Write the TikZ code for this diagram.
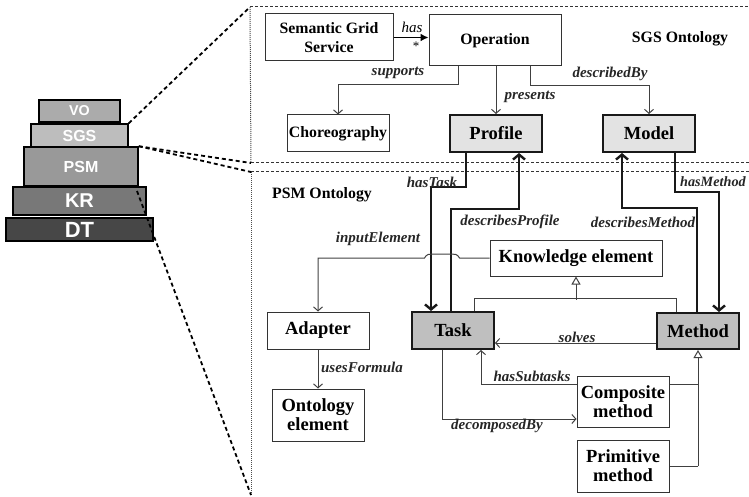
\documentclass[tikz,border=0pt]{standalone}
\usepackage{fontspec}
\setmainfont{Liberation Serif}
\newfontfamily\pyrfont{Liberation Sans}
\usetikzlibrary{arrows.meta}
\begin{document}
\begin{tikzpicture}[x=1pt,y=-1pt,
  box/.style={draw=black!80, line width=1pt, fill=white, inner sep=0pt, align=center, font=\bfseries\fontsize{18.5}{19}\selectfont},
  sbox/.style={box, font=\bfseries\fontsize{15.8}{19}\selectfont},
  gbox/.style={box, line width=2pt, draw=black!90},
  lbl/.style={font=\bfseries\itshape\fontsize{15}{16}\selectfont, text=black!85, inner sep=1pt},
  conn/.style={draw=black!75, line width=1pt},
  thk/.style={draw=black!90, line width=2.4pt},
  arr/.style={-{Straight Barb[length=4pt,width=9pt]}},
  tarr/.style={-{Straight Barb[length=5pt,width=12pt]}},
  gen/.style={-{Triangle[open,length=8pt,width=9pt,fill=white]}},
  lay/.style={draw=black, line width=1.5pt, text=white, inner sep=0pt},
  fdash/.style={line width=1pt, dash pattern=on 3pt off 2pt, draw=black!80},
  fdot/.style={line width=1pt, dash pattern=on 1pt off 1pt, draw=black!70},
  pdash/.style={line width=1.8pt, dash pattern=on 4pt off 3pt, draw=black}
]
\useasboundingbox (0,0) rectangle (749,497);

% frame coordinates
\coordinate (t1) at (250,7);
\coordinate (t2) at (760,7);
\coordinate (b1) at (251,163);
\coordinate (b2) at (760,163);
\coordinate (p1) at (251,172);
\coordinate (p2) at (760,172);
\coordinate (p3) at (251,495);
\coordinate (k1) at (137,191);

\draw[fdash] (t1) -- (t2);
\draw[fdot] (t1) -- (b1);
\draw[fdash] (b1) -- (b2);
\draw[fdash] (p1) -- (p2);
\draw[fdot] (p1) -- (p3);

% pyramid
\node[lay, fill=gray!66, minimum width=81, minimum height=22, font=\pyrfont\bfseries\fontsize{14.3}{15}\selectfont] (vo) at (79.5,111) {VO};
\node[lay, fill=gray!52, minimum width=97, minimum height=23, font=\pyrfont\bfseries\fontsize{16}{17}\selectfont] (sgsl) at (79.5,135.5) {SGS};
\node[lay, fill=gray!80, minimum width=114, minimum height=39, font=\pyrfont\bfseries\fontsize{16}{17}\selectfont] (psml) at (81,166.5) {PSM};
\node[lay, fill=black!53, minimum width=133, minimum height=28, font=\pyrfont\bfseries\fontsize{20}{21}\selectfont] (krl) at (79.5,201) {KR};
\node[lay, fill=black!72, minimum width=147, minimum height=23, font=\pyrfont\bfseries\fontsize{22}{23}\selectfont] (dtl) at (79.5,229.5) {DT};

\draw[pdash] (sgsl.north east) -- (t1);
\draw[pdash] (psml.north east) -- (b1);
\draw[pdash] (psml.north east) -- (p1);
\draw[pdash] (k1) -- (p3);

% SGS ontology boxes
\node[sbox, minimum width=128, minimum height=47] (sgs) at (329,37.5) {Semantic Grid\\Service};
\node[sbox, minimum width=132, minimum height=51] (op) at (495,40.5) {Operation};
\node[sbox, minimum width=102, minimum height=37] (choreo) at (338,133.5) {Choreography};
\node[gbox, fill=gray!22, minimum width=92, minimum height=37] (profile) at (496,133.5) {Profile};
\node[gbox, fill=gray!22, minimum width=92, minimum height=37] (model) at (649,133.5) {Model};
\node[font=\bfseries\fontsize{15.8}{17}\selectfont] (sgstitle) at (680,39) {SGS Ontology};

% PSM ontology boxes
\node[font=\bfseries\fontsize{15.8}{17}\selectfont] (psmtitle) at (322,195) {PSM Ontology};
\node[box, minimum width=172, minimum height=36] (ke) at (576,258) {Knowledge element};
\node[box, minimum width=102, minimum height=37] (adapter) at (318,330.5) {Adapter};
\node[gbox, fill=gray!50, minimum width=82, minimum height=37] (task) at (453,330.5) {Task};
\node[gbox, fill=gray!50, minimum width=82, minimum height=36] (method) at (698,331) {Method};
\node[box, minimum width=92, minimum height=52] (ontel) at (318,415) {Ontology\\element};
\node[box, minimum width=92, minimum height=51] (comp) at (623,401.5) {Composite\\method};
\node[box, minimum width=92, minimum height=52] (prim) at (623,466) {Primitive\\method};

% SGS connectors
\draw[line width=1.8pt, draw=black, -{Latex[length=8pt,width=8pt]}] (sgs.east) -- (sgs.east -| op.west);
\node[font=\itshape\fontsize{15}{16}\selectfont, inner sep=0pt] (lhas) at (412,27) {has};
\node[font=\fontsize{13}{14}\selectfont, inner sep=0pt] (lstar) at (416,46) {*};

\draw[conn, arr] ([xshift=30]op.south west) -- ++(0,18) -| (choreo.north);
\node[lbl] (lsup) at (398,73) {supports};
\draw[conn, arr] (profile.north |- op.south) -- (profile.north);
\node[lbl] (lpres) at (530,97) {presents};
\draw[conn, arr] ([xshift=102]op.south west) -- ++(0,19) -| (model.north);
\node[lbl] (ldesc) at (610,74) {describedBy};

% thick connectors
\draw[thk, tarr] ([xshift=17]profile.south west) -- ++(0,34) -| ([xshift=20]task.north west);
\node[lbl] (lhastask) at (432,182) {hasTask};
\draw[thk, tarr] ([xshift=40]task.north west) -- ++(0,-102) -| ([xshift=70]profile.south west);
\node[lbl] (ldp) at (510,222) {describesProfile};
\draw[thk, tarr] ([xshift=41]method.north west) -- ++(0,-104) -| ([xshift=20]model.south west);
\node[lbl] (ldm) at (643,222) {describesMethod};
\draw[thk, tarr] ([xshift=73]model.south west) -- ++(0,39) -| ([xshift=63]method.north west);
\node[lbl, anchor=west, font=\bfseries\itshape\fontsize{14.2}{15}\selectfont, inner sep=0pt] (lhm) at (680,182) {hasMethod};

% PSM thin connectors
\draw[conn, arr] (ke.west) -- ++(-30,0) .. controls +(-2,-4) and +(3,0) .. ++(-8,-4) -- ++(-19,0) .. controls +(-3,0) and +(2,-4) .. ++(-8,4) -| (adapter.north);
\node[lbl] (lie) at (378,239) {inputElement};
\draw[conn, arr] (adapter.south) -- (ontel.north);
\node[lbl] (luf) at (362,367) {usesFormula};

\draw[conn] ([xshift=63]task.north west) -- ++(0,-13) -| ([xshift=20]method.north west);
\draw[conn, gen] ([yshift=-23]ke.south) -- (ke.south);

\draw[conn, arr] ([yshift=-12]method.west) -- ([yshift=-12]method.west -| task.east);
\node[lbl] (lsol) at (577,337) {solves};
\draw[conn, arr] ([yshift=17.5]comp.west) -| ([xshift=70]task.south west);
\node[lbl] (lhst) at (532,376) {hasSubtasks};
\draw[conn, arr] ([xshift=31]task.south west) |- ([yshift=-17.5]comp.west);
\node[lbl] (ldec) at (497,426) {decomposedBy};

\draw[conn] ([yshift=17.5]comp.east) -- ([yshift=17.5]comp.east -| method.south);
\draw[conn] (prim.east) -- (prim.east -| method.south);
\draw[conn, gen] (prim.east -| method.south) -- (method.south);
\end{tikzpicture}
\end{document}
